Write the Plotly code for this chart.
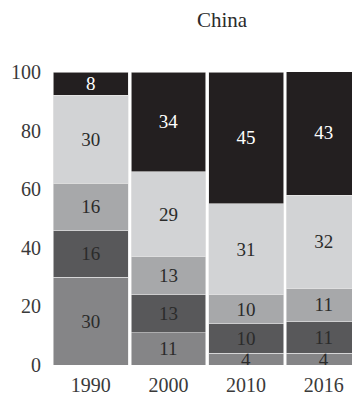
import plotly.graph_objects as go

years = ["1990", "2000", "2010", "2016"]
# segments bottom to top
seg1 = [30, 11, 4, 4]
seg2 = [16, 13, 10, 11]
seg3 = [16, 13, 10, 11]
seg4 = [30, 29, 31, 32]
seg5 = [8, 34, 45, 43]

series = [seg1, seg2, seg3, seg4, seg5]
colors = ["#858587", "#58585a", "#a7a8aa", "#d2d3d5", "#231f20"]
text_colors = ["#2b2b2b", "#2b2b2b", "#2b2b2b", "#2b2b2b", "#ffffff"]

SERIF = "Liberation Serif"

fig = go.Figure()
for vals, c, tc in zip(series, colors, text_colors):
    fig.add_trace(go.Bar(
        x=years, y=vals,
        marker=dict(color=c, line=dict(color="#e6e6e6", width=0.6)),
        text=vals, textposition="inside", insidetextanchor="middle",
        textangle=0, constraintext="none",
        textfont=dict(family=SERIF, size=19, color=tc),
        showlegend=False,
    ))

# the page body adds an 8px margin; margins below compensate, last bar runs off the right edge
fig.update_layout(
    barmode="stack",
    bargap=0.035,
    width=360, height=394,
    margin=dict(l=44, r=0, t=64, b=37),
    paper_bgcolor="white", plot_bgcolor="white",
    font=dict(family=SERIF, size=20, color="#3a3a3a"),
    title=dict(text="China", x=214/360, xanchor="center", y=1-12/394, yanchor="middle",
               font=dict(family=SERIF, size=21, color="#2b2b2b")),
    xaxis=dict(range=[-0.5, 3.57], showgrid=False, showline=False, ticks="", automargin=False,
               ticklabelstandoff=6, tickfont=dict(family=SERIF, size=20, color="#3a3a3a")),
    yaxis=dict(range=[0, 100], tickvals=[0, 20, 40, 60, 80, 100], showgrid=False, automargin=False,
               zeroline=False, showline=False, ticks="", ticklabelstandoff=10,
               tickfont=dict(family=SERIF, size=20, color="#3a3a3a")),
)

fig.write_html("out.html", post_script="document.body.style.overflow = 'hidden';")
